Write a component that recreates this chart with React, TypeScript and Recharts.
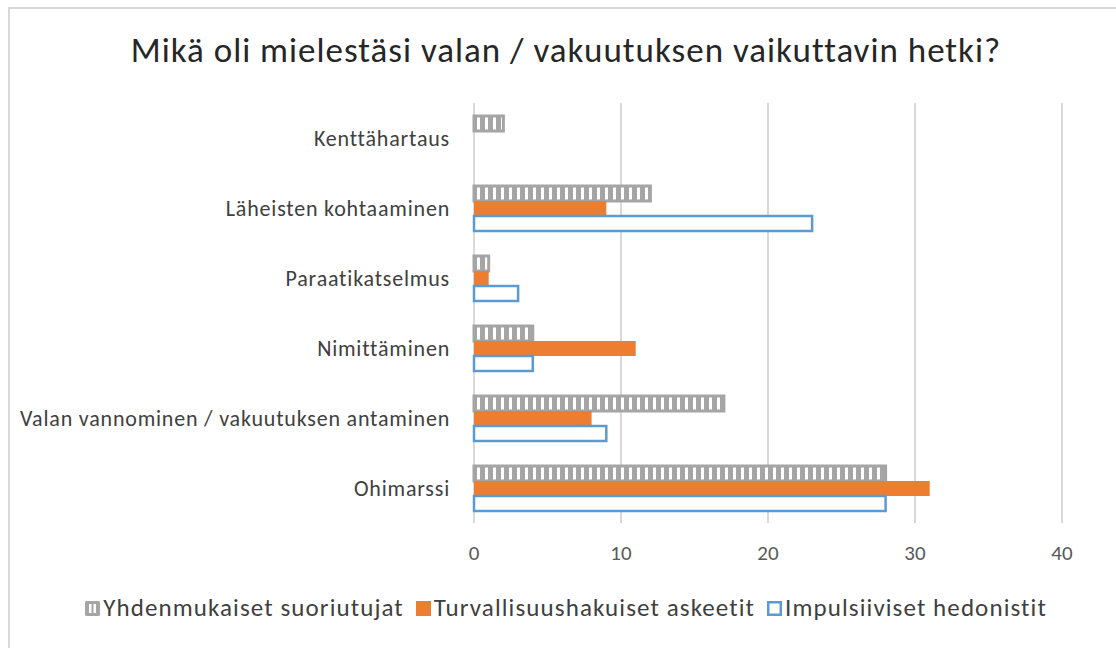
import React from "react";
import { BarChart, Bar, XAxis, YAxis, CartesianGrid, Legend } from "recharts";

const categories = [
  "Kenttähartaus",
  "Läheisten kohtaaminen",
  "Paraatikatselmus",
  "Nimittäminen",
  "Valan vannominen / vakuutuksen antaminen",
  "Ohimarssi",
];
const yhdenmukaiset = [2, 12, 1, 4, 17, 28];
const turvallisuus = [0, 9, 1, 11, 8, 31];
const impulsiiviset = [0, 23, 3, 4, 9, 28];
const xTicks = [0, 10, 20, 30, 40];
const seriesNames = [
  "Yhdenmukaiset suoriutujat",
  "Turvallisuushakuiset askeetit",
  "Impulsiiviset hedonistit",
];
const title = "Mikä oli mielestäsi valan / vakuutuksen vaikuttavin hetki?";

const data = categories.map((c, i) => ({
  name: c,
  a: yhdenmukaiset[i],
  b: turvallisuus[i],
  c: impulsiiviset[i],
}));

const FONT = "Carlito, Calibri, Lato, sans-serif";
const GRAY = "#a5a5a5";
const ORANGE = "#ed7d31";
const BLUE = "#5b9bd5";

const LegendContent = () => {
  const icon = (kind: number) => {
    if (kind === 0)
      return (
        <svg width={15} height={15} style={{ marginRight: 3 }}>
          <rect x={0} y={0} width={15} height={15} rx={1.5} fill={GRAY} />
          <rect x={4} y={3} width={2.5} height={9} fill="#fff" />
          <rect x={8.5} y={3} width={2.5} height={9} fill="#fff" />
        </svg>
      );
    if (kind === 1)
      return (
        <svg width={15} height={15} style={{ marginRight: 3 }}>
          <rect x={0} y={0} width={15} height={15} fill={ORANGE} />
        </svg>
      );
    return (
      <svg width={15} height={15} style={{ marginRight: 3 }}>
        <rect x={1.25} y={1.25} width={12.5} height={12.5} fill="#fff" stroke={BLUE} strokeWidth={2.5} />
      </svg>
    );
  };
  return (
    <div
      style={{
        display: "flex",
        justifyContent: "center",
        alignItems: "center",
        fontFamily: FONT,
        fontSize: 25,
        letterSpacing: 1.1,
        color: "#404040",
        lineHeight: "30px",
      }}
    >
      {seriesNames.map((n, i) => (
        <div key={n} style={{ display: "flex", alignItems: "center", marginRight: i < 2 ? 12 : 0 }}>
          {icon(i)}
          <span>{n}</span>
        </div>
      ))}
    </div>
  );
};

export default function App() {
  return (
    <div
      style={{
        position: "absolute",
        left: 0,
        top: 0,
        width: 1116,
        height: 648,
        overflow: "hidden",
        background: "#fff",
      }}
    >
      <div
        style={{
          position: "absolute",
          left: 8,
          top: 7,
          width: 1130,
          height: 660,
          border: "2px solid #d9d9d9",
          boxSizing: "border-box",
        }}
      />
      <div
        style={{
          position: "absolute",
          left: 8,
          top: 29,
          width: 1116,
          textAlign: "center",
          fontFamily: FONT,
          fontSize: 35,
          letterSpacing: 1.0,
          lineHeight: "42px",
          color: "#262626",
          whiteSpace: "pre",
        }}
      >
        {title}
      </div>
      <BarChart
        width={1116}
        height={648}
        data={data}
        layout="vertical"
        margin={{ top: 103, right: 54, bottom: 5, left: 0 }}
        barSize={15}
        barGap={0}
        style={{ position: "absolute", left: 0, top: 0 }}
      >
        <defs>
          <pattern id="stripes" patternUnits="userSpaceOnUse" width={8} height={8} x={0} y={0}>
            <rect x={0} y={0} width={8} height={8} fill={GRAY} />
            <rect x={5} y={0} width={3} height={8} fill="#fff" />
          </pattern>
        </defs>
        <CartesianGrid horizontal={false} stroke="#d9d9d9" strokeWidth={2} />
        <XAxis
          type="number"
          domain={[0, 40]}
          ticks={xTicks}
          axisLine={false}
          tickLine={false}
          tickSize={0}
          tickMargin={22}
          height={70}
          tick={{ fill: "#595959", fontSize: 21, fontFamily: FONT }}
        />
        <YAxis
          type="category"
          dataKey="name"
          width={474}
          axisLine={false}
          tickLine={false}
          tickSize={0}
          tickMargin={24}
          interval={0}
          tick={{ fill: "#404040", fontSize: 22, fontFamily: FONT, letterSpacing: 0.8 }}
        />
        <Legend
          verticalAlign="bottom"
          height={50}
          content={<LegendContent />}
          wrapperStyle={{ left: 8, width: 1116 }}
        />
        <Bar dataKey="a" name={seriesNames[0]} fill="url(#stripes)" stroke={GRAY} strokeWidth={3} isAnimationActive={false} />
        <Bar dataKey="b" name={seriesNames[1]} fill={ORANGE} isAnimationActive={false} />
        <Bar dataKey="c" name={seriesNames[2]} fill="#fff" stroke={BLUE} strokeWidth={2.5} isAnimationActive={false} />
      </BarChart>
    </div>
  );
}
